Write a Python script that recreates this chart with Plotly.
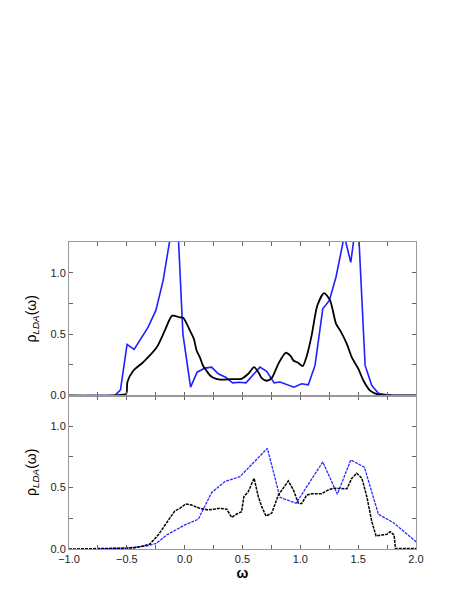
import plotly.graph_objects as go
from plotly.subplots import make_subplots

# top panel: smooth LDA curve (black) and coarse curve (blue)
top_black_x = [-1.0, -0.6, -0.55, -0.505, -0.495, -0.446, -0.36, -0.243, -0.171, -0.108,
               -0.042, -0.013, 0.045, 0.08, 0.103, 0.132, 0.16, 0.19, 0.218, 0.247,
               0.305, 0.4, 0.492, 0.55, 0.6, 0.637, 0.666, 0.709, 0.752, 0.81,
               0.873, 0.917, 0.94, 0.983, 1.02, 1.055, 1.098, 1.147, 1.205, 1.257,
               1.309, 1.344, 1.402, 1.445, 1.502, 1.545, 1.603, 1.675, 1.75, 2.0]
top_black_y = [0.0, 0.0, 0.005, 0.014, 0.11, 0.20, 0.27, 0.39, 0.53, 0.65,
               0.636, 0.633, 0.53, 0.46, 0.367, 0.31, 0.24, 0.20, 0.165, 0.145,
               0.13, 0.133, 0.136, 0.177, 0.231, 0.19, 0.141, 0.12, 0.141, 0.258,
               0.348, 0.32, 0.285, 0.265, 0.239, 0.32, 0.49, 0.733, 0.834, 0.774,
               0.584, 0.53, 0.42, 0.31, 0.217, 0.122, 0.04, 0.008, 0.002, 0.0]

top_blue_x = [-0.85, -0.604, -0.555, -0.498, -0.437, -0.316, -0.249, -0.186, -0.07, -0.015,
              0.051, 0.108, 0.175, 0.233, 0.29, 0.354, 0.415, 0.472, 0.53, 0.651,
              0.709, 0.773, 0.824, 0.887, 0.945, 1.011, 1.069, 1.127, 1.194, 1.251,
              1.309, 1.38, 1.436, 1.495, 1.56, 1.618, 1.675, 1.74, 1.8, 2.0]
top_blue_y = [0.0, 0.0, 0.046, 0.416, 0.375, 0.557, 0.693, 0.937, 1.6, 0.5,
              0.068, 0.19, 0.223, 0.231, 0.177, 0.149, 0.103, 0.108, 0.103, 0.231,
              0.196, 0.103, 0.11, 0.087, 0.068, 0.095, 0.087, 0.245, 0.706, 0.774,
              0.967, 1.30, 1.084, 1.5, 0.245, 0.081, 0.019, 0.005, 0.0, 0.0]

# bottom panel
bot_black_x = [-1.0, -0.5, -0.45, -0.388, -0.301, -0.229, -0.157, -0.085, -0.042, 0.01,
               0.06, 0.132, 0.203, 0.305, 0.363, 0.406, 0.45, 0.492, 0.512, 0.55,
               0.6, 0.637, 0.666, 0.703, 0.752, 0.81, 0.896, 0.94, 0.983, 1.012,
               1.055, 1.098, 1.184, 1.242, 1.286, 1.402, 1.445, 1.488, 1.532, 1.575,
               1.618, 1.655, 1.705, 1.748, 1.777, 1.811, 1.822, 2.0]
bot_black_y = [0.0, 0.002, 0.008, 0.019, 0.04, 0.114, 0.209, 0.31, 0.331, 0.367,
               0.358, 0.331, 0.318, 0.331, 0.325, 0.258, 0.285, 0.304, 0.426, 0.467,
               0.576, 0.426, 0.345, 0.269, 0.291, 0.44, 0.554, 0.481, 0.372, 0.37,
               0.44, 0.45, 0.45, 0.481, 0.495, 0.49, 0.576, 0.617, 0.576, 0.426,
               0.222, 0.106, 0.114, 0.119, 0.141, 0.114, 0.005, 0.005]

bot_blue_x = [-0.75, -0.503, -0.33, -0.243, -0.157, 0.002, 0.117, 0.233, 0.348, 0.478,
              0.715, 0.824, 0.963, 1.194, 1.32, 1.436, 1.554, 1.675, 1.805, 2.0]
bot_blue_y = [0.0, 0.008, 0.024, 0.046, 0.114, 0.196, 0.242, 0.459, 0.549, 0.589,
              0.82, 0.421, 0.372, 0.709, 0.446, 0.725, 0.666, 0.283, 0.214, 0.06]

fig = make_subplots(rows=2, cols=1, shared_xaxes=True, vertical_spacing=0)

fig.add_trace(go.Scatter(x=top_blue_x, y=top_blue_y, mode='lines',
                         line=dict(color='#1f1fff', width=1.6)), row=1, col=1)
fig.add_trace(go.Scatter(x=top_black_x, y=top_black_y, mode='lines',
                         line=dict(color='black', width=1.8, shape='spline', smoothing=0.7)),
              row=1, col=1)
fig.add_trace(go.Scatter(x=bot_blue_x, y=bot_blue_y, mode='lines',
                         line=dict(color='#2a2aff', width=1.3, dash='3px,1px')), row=2, col=1)
fig.add_trace(go.Scatter(x=bot_black_x, y=bot_black_y, mode='lines',
                         line=dict(color='black', width=1.5, dash='3px,1px')), row=2, col=1)

font = dict(family='Liberation Sans, Arial, sans-serif', size=11, color='#222')
axis_style = dict(showline=True, linecolor='#999', linewidth=1, mirror='ticks',
                  ticks='inside', ticklen=4, tickcolor='#666', showgrid=False,
                  zeroline=False, tickfont=font)

fig.update_xaxes(range=[-1, 2], dtick=0.5, tickformat='.1f',
                 minor=dict(dtick=0.25, ticks='inside', ticklen=4, tickcolor='#666'),
                 **axis_style)
fig.update_xaxes(showticklabels=False, row=1, col=1)
fig.update_xaxes(title=dict(text='<b>ω</b>', standoff=2,
                            font=dict(family='Liberation Sans, Arial, sans-serif', size=14, color='black')),
                 row=2, col=1)

fig.update_yaxes(range=[0, 1.25], dtick=0.5, tickformat='.1f',
                 minor=dict(dtick=0.25, ticks='inside', ticklen=4, tickcolor='#666'),
                 title=dict(text='ρ<sub><i>LDA</i></sub>(ω)', standoff=10,
                            font=dict(family='Liberation Sans, Arial, sans-serif', size=14, color='black')),
                 **axis_style)

# page body adds an 8px offset, so the figure is a bit smaller than the window
fig.update_layout(
    width=455, height=593,
    margin=dict(l=61, r=47, t=234, b=52),
    showlegend=False,
    plot_bgcolor='white',
    paper_bgcolor='white',
)

fig.write_html("out.html")
